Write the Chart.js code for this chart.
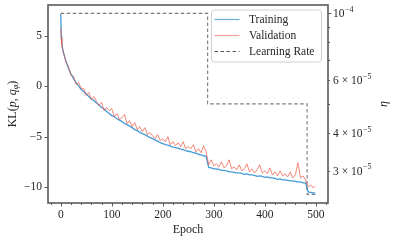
<!DOCTYPE html>
<html>
<head>
<meta charset="utf-8">
<script src="https://cdn.jsdelivr.net/npm/chart.js@4.4.1/dist/chart.umd.min.js"></script>
<style>
  html, body { margin: 0; padding: 0; background: #fff; }
  #wrap { width: 396px; height: 240px; }
</style>
</head>
<body>
<div id="wrap"><canvas id="lossChart" width="396" height="240"></canvas></div>
<script>
const epochs = [0, 1, 2, 3, 5, 10, 15, 20, 25, 30, 35, 40, 45, 50, 55, 60, 65, 70, 75, 80, 85, 90, 95,
  100, 105, 110, 115, 120, 125, 130, 135, 140, 145, 150, 155, 160, 165, 170, 175, 180, 185, 190, 195,
  200, 205, 210, 215, 220, 225, 230, 235, 240, 245, 250, 255, 260, 265, 270, 275, 280, 285, 290, 295,
  300, 305, 310, 315, 320, 325, 330, 335, 340, 345, 350, 355, 360, 365, 370, 375, 380, 385, 390, 395,
  400, 405, 410, 415, 420, 425, 430, 435, 440, 445, 450, 455, 460, 465, 470, 475, 480, 485, 490, 495, 499];

const trainingLoss = [7.2, 5.0, 4.35, 3.95, 3.4, 2.55, 1.8, 1.25, 0.8, 0.35, 0.05, -0.3, -0.5, -0.75, -1.0, -1.25, -1.4, -1.65, -1.85, -2.1, -2.25, -2.5, -2.7,
  -2.9, -3.0, -3.2, -3.35, -3.5, -3.7, -3.8, -3.95, -4.1, -4.3, -4.4, -4.55, -4.7, -4.8, -4.95, -5.1, -5.2, -5.35, -5.45, -5.6,
  -5.7, -5.8, -5.85, -5.95, -6.05, -6.1, -6.15, -6.25, -6.3, -6.4, -6.45, -6.5, -6.6, -6.65, -6.75, -6.8, -6.9, -6.95, -8.05, -8.1,
  -8.2, -8.2, -8.25, -8.35, -8.35, -8.4, -8.5, -8.5, -8.55, -8.6, -8.6, -8.65, -8.75, -8.7, -8.8, -8.8, -8.85, -8.95, -8.9, -8.95,
  -9.05, -9.0, -9.1, -9.1, -9.15, -9.25, -9.2, -9.3, -9.3, -9.35, -9.4, -9.4, -9.45, -9.5, -9.5, -9.6, -9.6, -10.5, -10.55, -10.6, -10.6];

const validationLoss = [5.8, 4.8, 4.2, 3.8, 3.5, 2.4, 2.0, 1.1, 1.0, 0.2, 0.4, -0.2, -0.2, -0.9, -0.6, -1.3, -1.0, -1.5, -1.9, -1.6, -2.4, -2.1, -2.4,
  -2.2, -3.0, -2.7, -3.3, -3.1, -2.8, -3.7, -3.4, -4.0, -3.6, -4.3, -4.0, -4.5, -4.1, -4.8, -4.6, -4.9, -5.2, -4.8, -5.4,
  -5.2, -5.5, -5.0, -5.8, -5.5, -5.9, -5.6, -6.0, -5.5, -6.2, -6.0, -6.2, -5.8, -6.5, -6.2, -6.6, -5.9, -6.5, -7.8, -7.3,
  -7.9, -7.7, -8.0, -7.5, -8.1, -7.9, -7.3, -8.2, -8.0, -8.3, -7.8, -8.4, -8.2, -7.7, -8.5, -8.2, -8.6, -8.3, -7.8, -8.6,
  -8.4, -8.7, -8.1, -8.8, -8.5, -8.9, -8.4, -8.9, -8.7, -9.0, -8.5, -9.1, -8.8, -7.6, -9.1, -8.9, -9.3, -10.0, -9.8, -10.1, -9.9];

const rateEpochs = [0, 288, 483, 499];
const learningRate = [1e-4, 5e-5, 2.5e-5, 2.5e-5];

const epochTicks = [0, 100, 200, 300, 400, 500];
const epochTickLabels = ["0", "100", "200", "300", "400", "500"];
const lossTicks = [-10, -5, 0, 5];
const lossTickLabels = ["\u221210", "\u22125", "0", "5"];
const rateTicks = [3e-5, 4e-5, 6e-5, 1e-4];
const rateTickBase = ["3 \u00d7 10", "4 \u00d7 10", "6 \u00d7 10", "10"];
const rateTickExp = ["\u22125", "\u22125", "\u22125", "\u22124"];
const rateMinorTicks = [3e-5, 4e-5, 5e-5, 6e-5, 7e-5, 8e-5, 9e-5];

const SERIF = '"Liberation Serif", "DejaVu Serif", serif';
const TEXT = "#262626";
const FRAME = "#5a5a5a";
const trainColor = "rgba(38, 138, 208, 0.85)";
const validColor = "rgba(236, 86, 64, 0.7)";
const rateColor = "#7a7a7a";

function points(xs, ys) {
  return xs.map((x, i) => ({ x, y: ys[i] }));
}

const axesDecor = {
  id: "axesDecor",
  afterDraw(chart) {
    const { ctx, chartArea: a, scales } = chart;
    const x = scales.x, y = scales.y, r = scales.y1;
    ctx.save();

    // frame
    ctx.strokeStyle = FRAME;
    ctx.lineWidth = 1.6;
    ctx.strokeRect(a.left, a.top, a.right - a.left, a.bottom - a.top);

    // tick marks
    ctx.lineWidth = 1;
    ctx.strokeStyle = FRAME;
    const tick = (x1, y1, x2, y2) => { ctx.beginPath(); ctx.moveTo(x1, y1); ctx.lineTo(x2, y2); ctx.stroke(); };
    for (let v = -20; v <= 520; v += 20) {
      const px = Math.round(x.getPixelForValue(v)) + 0.5;
      tick(px, a.bottom, px, a.bottom + (v % 100 === 0 ? 3.5 : 2));
    }
    lossTicks.forEach((v) => {
      const py = Math.round(y.getPixelForValue(v)) + 0.5;
      tick(a.left - 3.5, py, a.left, py);
    });
    rateMinorTicks.forEach((v) => {
      const py = Math.round(r.getPixelForValue(v)) + 0.5;
      tick(a.right, py, a.right + 2, py);
    });
    const topRate = Math.round(r.getPixelForValue(1e-4)) + 0.5;
    tick(a.right, topRate, a.right + 3.5, topRate);

    // tick labels
    ctx.fillStyle = TEXT;
    ctx.font = "11.5px " + SERIF;
    ctx.textBaseline = "middle";
    ctx.textAlign = "center";
    epochTicks.forEach((v, i) => ctx.fillText(epochTickLabels[i], x.getPixelForValue(v), a.bottom + 12));
    ctx.textAlign = "right";
    lossTicks.forEach((v, i) => ctx.fillText(lossTickLabels[i], a.left - 6, y.getPixelForValue(v)));
    ctx.textAlign = "left";
    rateTicks.forEach((v, i) => {
      const py = r.getPixelForValue(v);
      ctx.font = "11.5px " + SERIF;
      ctx.fillText(rateTickBase[i], a.right + 5, py + 1);
      const w = ctx.measureText(rateTickBase[i]).width;
      ctx.font = "8px " + SERIF;
      ctx.fillText(rateTickExp[i], a.right + 5 + w + 0.5, py - 3.5);
    });

    // axis titles
    ctx.font = "12px " + SERIF;
    ctx.textAlign = "center";
    ctx.fillText("Epoch", (a.left + a.right) / 2, a.bottom + 27);

    const cy = (a.top + a.bottom) / 2;
    const parts = [
      ["KL(", "12px " + SERIF, 0],
      ["p", "italic 12px " + SERIF, 0],
      [", ", "12px " + SERIF, 0],
      ["q", "italic 12px " + SERIF, 0],
      ["\u03c6", "italic 8.5px " + SERIF, 2.5],
      [")", "12px " + SERIF, 0],
    ];
    let total = 0;
    parts.forEach((p) => { ctx.font = p[1]; total += ctx.measureText(p[0]).width; });
    ctx.save();
    ctx.translate(13, cy);
    ctx.rotate(-Math.PI / 2);
    ctx.textAlign = "left";
    let cx = -total / 2;
    parts.forEach((p) => {
      ctx.font = p[1];
      ctx.fillText(p[0], cx, p[2]);
      cx += ctx.measureText(p[0]).width;
    });
    ctx.restore();

    ctx.save();
    ctx.translate(384, cy);
    ctx.rotate(-Math.PI / 2);
    ctx.font = "italic 12px " + SERIF;
    ctx.textAlign = "center";
    ctx.fillText("\u03b7", 0, 0);
    ctx.restore();

    // legend
    const lx = 211.5, ly = 10, lw = 110, lh = 52;
    ctx.beginPath();
    ctx.roundRect(lx, ly, lw, lh, 3);
    ctx.fillStyle = "rgba(255,255,255,0.85)";
    ctx.fill();
    ctx.strokeStyle = "#d0d0d0";
    ctx.lineWidth = 1;
    ctx.stroke();
    ctx.font = "11.5px " + SERIF;
    ctx.textAlign = "left";
    chart.data.datasets.forEach((ds, i) => {
      const rowY = ly + 9.5 + i * 16;
      ctx.strokeStyle = ds.legendColor;
      ctx.lineWidth = 1.2;
      ctx.setLineDash(ds.borderDash || []);
      tick(lx + 3, rowY, lx + 28, rowY);
      ctx.setLineDash([]);
      ctx.fillStyle = TEXT;
      ctx.fillText(ds.label, lx + 37.5, rowY + 0.5);
    });
    ctx.restore();
  },
};

new Chart(document.getElementById("lossChart"), {
  type: "line",
  data: {
    datasets: [
      {
        label: "Training",
        data: points(epochs, trainingLoss),
        yAxisID: "y",
        borderColor: trainColor,
        legendColor: "#6aaedb",
        borderWidth: 1.3,
        pointRadius: 0,
        order: 2,
      },
      {
        label: "Validation",
        data: points(epochs, validationLoss),
        yAxisID: "y",
        borderColor: validColor,
        legendColor: "#f2a395",
        borderWidth: 1,
        pointRadius: 0,
        order: 1,
      },
      {
        label: "Learning Rate",
        data: points(rateEpochs, learningRate),
        yAxisID: "y1",
        borderColor: rateColor,
        legendColor: "#555555",
        borderWidth: 1.1,
        borderDash: [3.5, 2.5],
        stepped: true,
        pointRadius: 0,
        order: 3,
      },
    ],
  },
  options: {
    responsive: false,
    animation: false,
    devicePixelRatio: 1,
    layout: { padding: { top: 5, left: 0, right: 0, bottom: 0 } },
    plugins: { legend: { display: false }, tooltip: { enabled: false } },
    scales: {
      x: {
        type: "linear",
        min: -25,
        max: 524,
        ticks: { display: false },
        grid: { display: false, drawTicks: false },
        border: { display: false },
        afterFit(scale) { scale.height = 37; },
      },
      y: {
        type: "linear",
        position: "left",
        min: -11.6,
        max: 8.1,
        ticks: { display: false },
        grid: { display: false, drawTicks: false },
        border: { display: false },
        afterFit(scale) { scale.width = 48; },
      },
      y1: {
        type: "logarithmic",
        position: "right",
        min: 2.34e-5,
        max: 1.066e-4,
        ticks: { display: false },
        grid: { display: false, drawTicks: false },
        border: { display: false },
        afterFit(scale) { scale.width = 68; },
      },
    },
  },
  plugins: [axesDecor],
});
</script>
</body>
</html>
